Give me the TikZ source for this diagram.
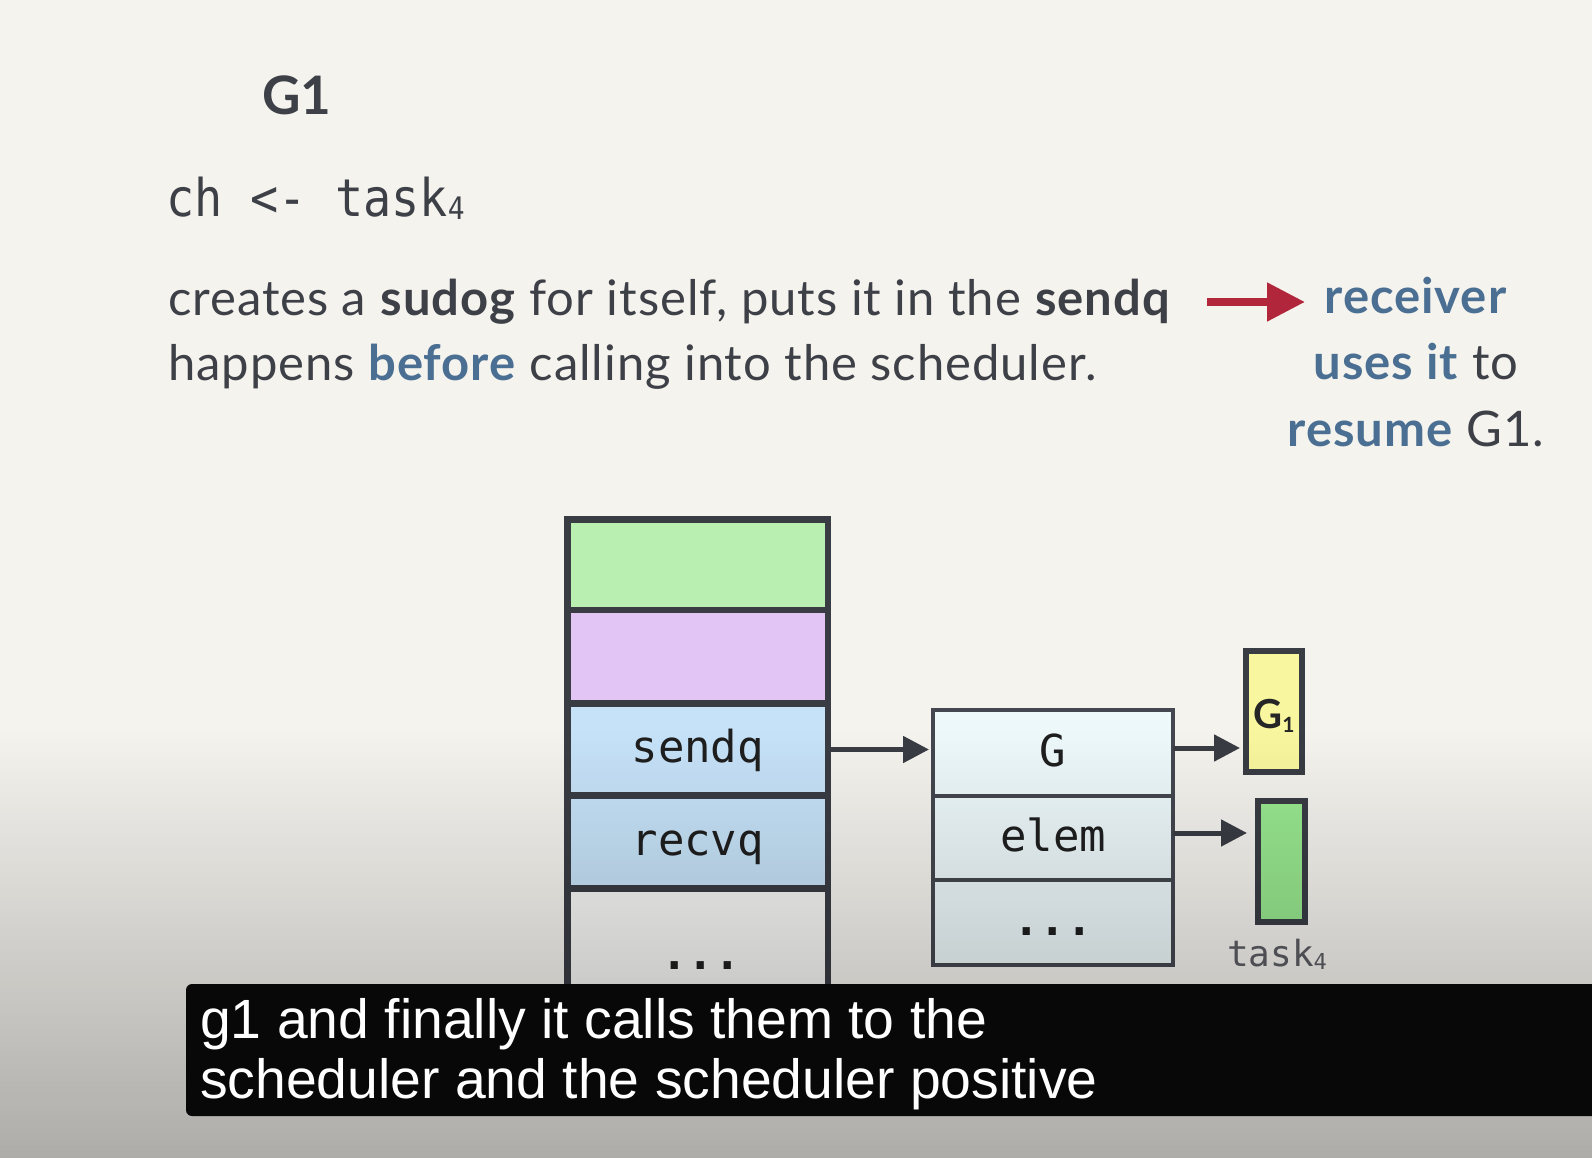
\documentclass[tikz,border=0pt]{standalone}
\usepackage{fontspec}
\setmainfont{Lato}[LetterSpace=1.9]
\newfontfamily\titlefont{Lato}
\newfontfamily\codefont{DejaVu Sans Mono}
\newfontfamily\capfont{Liberation Sans}
\usetikzlibrary{arrows.meta,fadings}

\definecolor{paper}{HTML}{F5F3EE}
\definecolor{ink}{HTML}{3E4048}
\definecolor{accent}{HTML}{4A6F92}
\definecolor{alert}{HTML}{B1263A}
\definecolor{frame}{HTML}{3A3C44}
\definecolor{sudogline}{HTML}{44474F}
\definecolor{cellgreen}{HTML}{B9F0B1}
\definecolor{cellpurple}{HTML}{E2C5F5}
\definecolor{cellblue}{HTML}{C6E2F8}
\definecolor{cellgrey}{HTML}{F6F6F4}
\definecolor{sudogfill}{HTML}{EDF8FA}
\definecolor{gyellow}{HTML}{F8F69E}
\definecolor{taskgreen}{HTML}{98E88F}
\definecolor{capbg}{HTML}{080808}

\tikzfading[name=shadeup, top color=transparent!100, bottom color=transparent!0]

\begin{document}
\begin{tikzpicture}[x=1pt,y=-1pt,
  body/.style={font=\fontsize{49}{60}\selectfont, text=ink, inner sep=0pt, anchor=base west},
  side/.style={font=\fontsize{49}{60}\selectfont, text=ink, inner sep=0pt, anchor=base},
  codelabel/.style={font=\codefont\fontsize{44}{44}\selectfont, text=black!88,
    text height=30pt, text depth=4pt},
  stackcell/.style={codelabel, draw=frame, line width=6.5pt, minimum width=260.5pt,
    inner sep=0pt, outer sep=0pt},
  sudogcell/.style={codelabel, draw=sudogline, line width=3.5pt, fill=sudogfill,
    minimum width=240pt, inner sep=0pt, outer sep=0pt},
  valuebox/.style={draw=frame, line width=6pt, inner sep=0pt, outer sep=0pt},
  ptr/.style={draw=frame, line width=5pt, -{Triangle[length=26pt,width=26pt]}},
  captext/.style={font=\capfont\fontsize{55.3}{60}\selectfont, text=white, inner sep=0pt, anchor=base west}
]
\useasboundingbox (0,0) rectangle (1592,1158);
\fill[paper] (0,0) rectangle (1592,1158);

% heading and statement
\node[font=\titlefont\bfseries\fontsize{53}{60}\selectfont, text=ink, inner sep=0pt, anchor=base west] (title) at (262,115) {G1};
\node[font=\codefont\fontsize{52}{60}\selectfont, text=ink, inner sep=0pt, anchor=base west] (stmt) at (166,217)
  {\scalebox{0.9}[1]{ch <- task\raisebox{-3pt}{\fontsize{31}{31}\selectfont 4}}};

% explanation
\node[body] (line1) at (168,315) {creates a \textbf{sudog} for itself, puts it in the \textbf{sendq}};
\node[body] (line2) at (168,380) {happens \textcolor{accent}{\textbf{before}} calling into the scheduler.};

\coordinate (r0) at (1207,302);
\coordinate (r1) at (1305,302);
\draw[line width=8pt, alert, -{Triangle[length=38pt,width=37pt]}] (r0) -- (r1);

\node[side] (rc1) at (1416,313) {\textcolor{accent}{\textbf{receiver}}};
\node[side] (rc2) at (1416,379) {\textcolor{accent}{\textbf{uses it}} to};
\node[side] (rc3) at (1416,446) {\textcolor{accent}{\textbf{resume}} G1.};

% channel structure
\node[stackcell, fill=cellgreen, minimum height=90.5pt] (slotA) at (697.75,564.75) {};
\node[stackcell, fill=cellpurple, minimum height=93.5pt] (slotB) at (697.75,656.75) {};
\node[stackcell, fill=cellblue, minimum height=92pt] (sendq) at (697.75,749.5) {sendq};
\node[stackcell, fill=cellblue, minimum height=93pt] (recvq) at (697.75,842) {recvq};
\node[stackcell, fill=cellgrey, minimum height=111.5pt] (rest) at (697.75,944.25) {};
\node[codelabel, inner sep=0pt, anchor=base] (restdots) at (701,969) {\bfseries ...};

% sudog
\node[sudogcell, minimum height=86pt] (gslot) at (1053,753) {G};
\node[sudogcell, minimum height=84pt] (elemslot) at (1053,838) {elem};
\node[sudogcell, minimum height=85pt] (moreslot) at (1053,922.5) {\bfseries ...};

% goroutine and value
\node[valuebox, fill=gyellow, minimum width=56pt, minimum height=121pt,
      font=\titlefont\bfseries\fontsize{40}{40}\selectfont, text=black!85,
      text height=34pt, text depth=0pt] (gone) at (1274,711.5)
      {G\raisebox{-4pt}{\fontsize{21}{21}\selectfont 1}};
\node[valuebox, fill=taskgreen, minimum width=47pt, minimum height=121pt] (taskbox) at (1281.5,861.5) {};
\node[font=\codefont\fontsize{36}{36}\selectfont, text=ink!85, inner sep=0pt, anchor=base] (tasklbl) at (1277,966)
  {task\raisebox{-3pt}{\fontsize{22}{22}\selectfont 4}};

% pointers
\coordinate (a1) at (sendq.east);
\draw[ptr, shorten >=4pt] (a1) -- (a1 -| gslot.west);
\coordinate (a2) at ([yshift=5pt]gslot.east);
\draw[ptr, shorten >=6pt] (a2) -- (a2 -| gone.west);
\coordinate (a3) at ([yshift=5pt]elemslot.east);
\draw[ptr, shorten >=11pt] (a3) -- (a3 -| taskbox.west);

% darkening toward the bottom edge
\fill[black, opacity=0.29, path fading=shadeup] (0,730) rectangle (1592,1158);

% caption
\fill[capbg, rounded corners=6pt] (186,984) rectangle (1620,1116);
\node[captext] (cap1) at (200,1038) {g1 and finally it calls them to the};
\node[captext] (cap2) at (200,1098) {scheduler and the scheduler positive};
\end{tikzpicture}
\end{document}
